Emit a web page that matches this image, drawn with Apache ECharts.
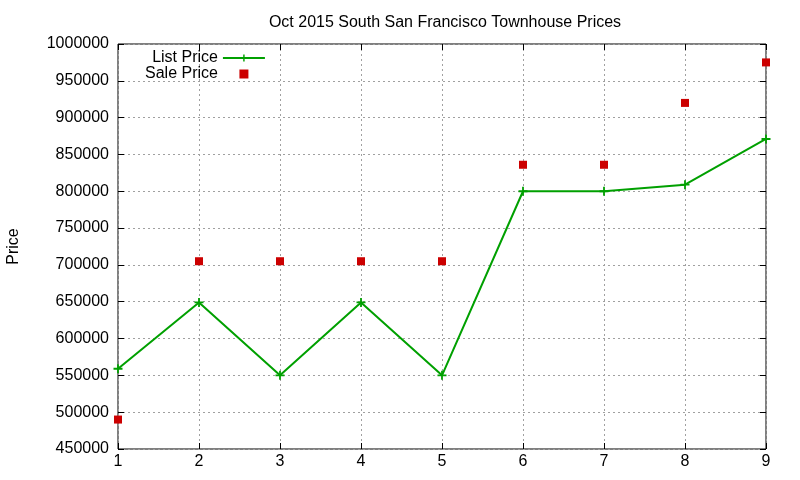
<!DOCTYPE html>
<html>
<head>
<meta charset="utf-8">
<script src="https://cdn.jsdelivr.net/npm/echarts@6/dist/echarts.min.js"></script>
<style>
	html, body { margin: 0; padding: 0; background: #fff; }
	#main { width: 800px; height: 480px; }
</style>
</head>
<body>
<div id="main"></div>
<script>
// data
var listings = [1, 2, 3, 4, 5, 6, 7, 8, 9];
var listPrice = [559000, 649000, 550000, 649000, 550000, 800000, 800000, 809000, 871000];
var salePrice = [490000, 705000, 705000, 705000, 705000, 836000, 836000, 920000, 975000];

var chart = echarts.init(document.getElementById('main'));

var font = 'Liberation Sans, Arial, sans-serif';
var plus = 'path://M4,0H6V4H10V6H6V10H4V6H0V4H4Z';
var square = 'path://M0,0H10V10H0Z';

function pairs(ys) {
	return listings.map(function (x, i) {
		return [x, ys[i]];
	});
}

var option = {
	backgroundColor: '#ffffff',
	animation: false,
	textStyle: { fontFamily: font },
	title: {
		text: 'Oct 2015 South San Francisco Townhouse Prices',
		left: 440,
		top: 10,
		textAlign: 'center',
		textStyle: { fontSize: 16, fontWeight: 'normal', color: '#000', fontFamily: font }
	},
	legend: {
		orient: 'vertical',
		left: 140,
		top: 45,
		align: 'right',
		itemGap: 0,
		itemWidth: 42,
		itemHeight: 9,
		symbolKeepAspect: true,
		textStyle: { fontSize: 16, color: '#000', fontFamily: font },
		data: [
			{ name: 'List Price' },
			{ name: 'Sale Price', icon: square, itemStyle: { color: '#cc0000', opacity: 1 } }
		]
	},
	grid: {
		left: 118,
		right: 34,
		top: 44,
		bottom: 31,
		outerBoundsMode: 'none',
		show: true,
		borderColor: '#000',
		borderWidth: 1
	},
	xAxis: [{
		type: 'value',
		min: 1,
		max: 9,
		interval: 1,
		axisLine: { show: false },
		axisTick: { inside: true, length: 6, lineStyle: { color: '#000' } },
		axisLabel: { fontSize: 16, color: '#000', margin: 5 },
		splitLine: { show: true, lineStyle: { color: '#a0a0a0', type: [2, 3] } }
	}, {
		type: 'value',
		position: 'top',
		min: 1,
		max: 9,
		interval: 1,
		axisLine: { show: false },
		axisTick: { inside: true, length: 6, lineStyle: { color: '#000' } },
		axisLabel: { show: false },
		splitLine: { show: false }
	}],
	yAxis: [{
		type: 'value',
		min: 450000,
		max: 1000000,
		interval: 50000,
		name: 'Price',
		nameLocation: 'middle',
		nameGap: 96,
		nameRotate: 90,
		nameTextStyle: { fontSize: 16, color: '#000' },
		axisLine: { show: false },
		axisTick: { inside: true, length: 6, lineStyle: { color: '#000' } },
		axisLabel: {
			fontSize: 16,
			color: '#000',
			margin: 9,
			formatter: function (v) { return String(v); }
		},
		splitLine: { show: true, lineStyle: { color: '#a0a0a0', type: [2, 3] } }
	}, {
		type: 'value',
		position: 'right',
		min: 450000,
		max: 1000000,
		interval: 50000,
		axisLine: { show: false },
		axisTick: { inside: true, length: 6, lineStyle: { color: '#000' } },
		axisLabel: { show: false },
		splitLine: { show: false }
	}],
	series: [{
		name: 'List Price',
		type: 'line',
		data: pairs(listPrice),
		symbol: plus,
		symbolSize: 9,
		showAllSymbol: true,
		lineStyle: { color: '#00a000', width: 2 },
		itemStyle: { color: '#00a000' }
	}, {
		name: 'Sale Price',
		type: 'scatter',
		data: pairs(salePrice),
		symbol: 'rect',
		symbolSize: 8,
		itemStyle: { color: '#cc0000', opacity: 1 }
	}]
};

chart.setOption(option);
</script>
</body>
</html>
